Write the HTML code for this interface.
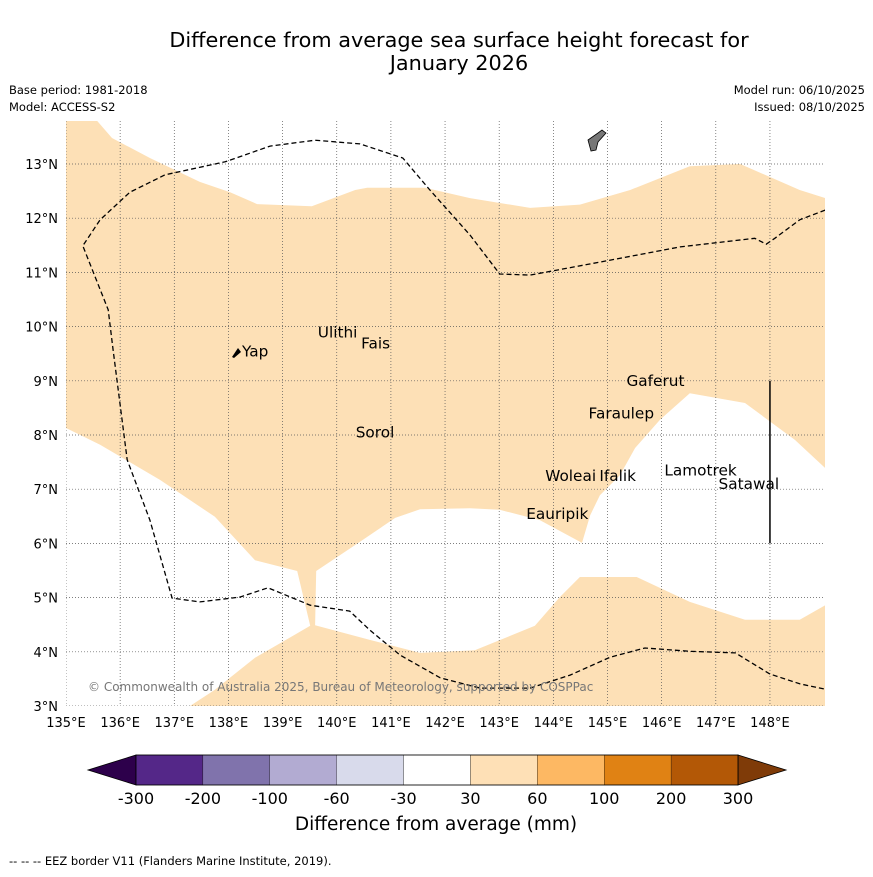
<!DOCTYPE html>
<html><head><meta charset="utf-8"><style>
body{margin:0;background:#fff;font-family:"DejaVu Sans",sans-serif;}
svg text{font-family:"DejaVu Sans",sans-serif;}
</style></head><body>
<svg id="s" width="873" height="873" xmlns="http://www.w3.org/2000/svg">
<text x="459" y="47" font-size="20.8" text-anchor="middle">Difference from average sea surface height forecast for</text>
<text x="459" y="70" font-size="20.8" text-anchor="middle">January 2026</text>
<text x="9" y="94" font-size="11.5">Base period: 1981-2018</text>
<text x="9" y="111" font-size="11.5">Model: ACCESS-S2</text>
<text x="865" y="94" font-size="11.5" text-anchor="end">Model run: 06/10/2025</text>
<text x="865" y="111" font-size="11.5" text-anchor="end">Issued: 08/10/2025</text>
<g id="map"></g>
<g id="cb"></g>
<text x="436" y="830" font-size="18.5" text-anchor="middle">Difference from average (mm)</text>
<text x="9" y="865" font-size="11.5">--  --  -- EEZ border V11 (Flanders Marine Institute, 2019).</text>
</svg>
<script>
const lonTicks=[135,136,137,138,139,140,141,142,143,144,145,146,147,148];
const latTicks=[3,4,5,6,7,8,9,10,11,12,13];
const shadeLon=[135,135.57,135.85,136.55,137.47,138.03,138.53,139.54,140.34,140.56,141.63,142.46,143.57,144.49,145.42,146.52,147.45,148.55,149.02,149.02,148.46,147.54,146.52,145.97,145.51,145.23,144.86,144.68,144.53,143.75,143.01,142.46,141.54,141.08,140.34,139.62,139.6,140.61,141.54,142.55,143.66,144.12,144.49,145.54,146.52,147.54,148.55,149.02,149.02,137.29,137.75,138.49,139.51,139.27,138.49,137.75,136.74,135.63,135];
const shadeLat=[13.8,13.8,13.48,13.11,12.67,12.48,12.26,12.22,12.52,12.56,12.56,12.37,12.19,12.25,12.52,12.96,13.0,12.52,12.37,7.39,7.91,8.59,8.77,8.28,7.76,7.26,6.89,6.52,6.01,6.43,6.62,6.65,6.63,6.47,5.97,5.49,4.49,4.22,3.98,4.03,4.48,5.01,5.38,5.38,4.92,4.59,4.59,4.86,3,3,3.3,3.89,4.48,5.49,5.69,6.49,7.17,7.82,8.13];
const eezLon=[149.02,148.55,148.09,147.93,147.72,146.34,144.86,143.57,143.01,142.46,141.72,141.22,140.43,139.6,138.77,137.94,136.83,136.18,135.63,135.31,135.78,135.87,136.13,136.55,136.96,137.47,138.21,138.73,139.51,140.24,140.61,141.17,141.91,142.65,143.57,144.31,145.05,145.69,146.52,147.36,148.0,148.55,149.02];
const eezLat=[12.15,11.97,11.63,11.52,11.63,11.47,11.19,10.95,10.97,11.69,12.52,13.11,13.37,13.44,13.33,13.04,12.8,12.48,11.97,11.49,10.31,9.57,7.54,6.43,4.99,4.92,5.01,5.18,4.86,4.75,4.4,3.94,3.52,3.33,3.33,3.57,3.9,4.07,4.01,3.98,3.59,3.41,3.31];
const places=["Yap","Ulithi","Fais","Sorol","Gaferut","Faraulep","Woleai","Ifalik","Lamotrek","Satawal","Eauripik"];
const placeLon=[138.25,139.65,140.45,140.35,145.35,144.65,143.85,144.85,146.05,147.05,143.5];
const placeLat=[9.45,9.8,9.6,7.95,8.9,8.3,7.15,7.15,7.25,7.0,6.45];
const cbColors=["#542788","#8073ac","#b2abd2","#d8daeb","#ffffff","#fee0b6","#fdb863","#e08214","#b35806"];
const cbLabels=["-300","-200","-100","-60","-30","30","60","100","200","300"];
const NS="http://www.w3.org/2000/svg";
const X0=66,X1=825,Y0=121,Y1=706;
const xs=l=>66+(l-135)*54.15, ys=l=>706-(l-3)*54.2;
function mk(t,a,p){const e=document.createElementNS(NS,t);for(const k in a)e.setAttribute(k,a[k]);p.appendChild(e);return e;}
const map=document.getElementById('map');
const cp=mk('clipPath',{id:'c'},map);mk('rect',{x:X0,y:Y0,width:X1-X0,height:Y1-Y0},cp);
const g=mk('g',{'clip-path':'url(#c)'},map);
let d=shadeLon.map((l,i)=>(i?'L':'M')+xs(l).toFixed(1)+','+ys(shadeLat[i]).toFixed(1)).join('')+'Z';
const sh=mk('path',{d:d,fill:'#fde0b6',stroke:'none'},g);


lonTicks.forEach(l=>{const e=mk('line',{x1:xs(l),x2:xs(l),y1:Y0,y2:Y1,stroke:'#555','stroke-width':0.7,'stroke-dasharray':'1,2'},g);


const t=mk('text',{x:xs(l),y:Y1+21,'font-size':13,'text-anchor':'middle'},map);t.textContent=l+'°E';

});
latTicks.forEach(l=>{const e=mk('line',{x1:X0,x2:X1,y1:ys(l),y2:ys(l),stroke:'#555','stroke-width':0.7,'stroke-dasharray':'1,2'},g);


const t=mk('text',{x:X0-8,y:ys(l)+5,'font-size':13,'text-anchor':'end'},map);t.textContent=l+'°N';

});
d=eezLon.map((l,i)=>(i?'L':'M')+xs(l).toFixed(1)+','+ys(eezLat[i]).toFixed(1)).join('');
const ez=mk('path',{d:d,fill:'none',stroke:'#000','stroke-width':1.3,'stroke-dasharray':'5,3'},g);


const vl=mk('line',{x1:xs(148),x2:xs(148),y1:ys(9),y2:ys(6),stroke:'#000','stroke-width':1.5},g);


const gu=mk('path',{d:'M588,140 L598,133 L602,130 L606,133 L598,142 L596,150 L591,151 Z',fill:'#777',stroke:'#000','stroke-width':0.8},g);


const yp=mk('path',{d:'M232,357 L238,348 L241,352 L234,358 Z',fill:'#000'},g);


places.forEach((p,i)=>{const t=mk('text',{x:xs(placeLon[i]),y:ys(placeLat[i]),'font-size':15.3},map);t.textContent=p;

});
const cr=mk('text',{x:88,y:691,'font-size':12,fill:'#777'},map);cr.textContent='© Commonwealth of Australia 2025, Bureau of Meteorology, supported by COSPPac';


const cb=document.getElementById('cb');
const bx=136,bw=(738-136)/cbColors.length,by=755,bh=30;
const lt=mk('path',{d:`M${bx},${by} L88,${by+bh/2} L${bx},${by+bh} Z`,fill:'#2d004b',stroke:'#000','stroke-width':0.8},cb);


const rt=mk('path',{d:`M738,${by} L786,${by+bh/2} L738,${by+bh} Z`,fill:'#7f3b08',stroke:'#000','stroke-width':0.8},cb);


cbColors.forEach((c,i)=>{const r=mk('rect',{x:bx+i*bw,y:by,width:bw,height:bh,fill:c,stroke:'#000','stroke-width':0.3},cb);

});
mk('rect',{x:bx,y:by,width:738-bx,height:bh,fill:'none',stroke:'#000','stroke-width':0.8},cb);
cbLabels.forEach((s,i)=>{const t=mk('text',{x:bx+i*bw,y:804,'font-size':16,'text-anchor':'middle'},cb);t.textContent=s;

});
</script>
</body></html>
